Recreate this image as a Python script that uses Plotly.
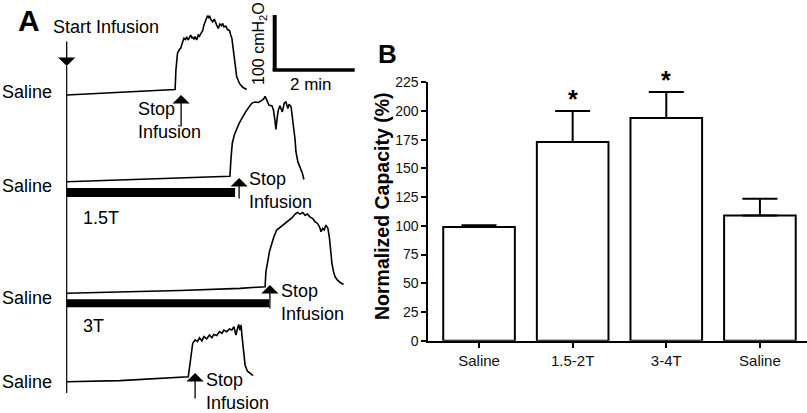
import plotly.graph_objects as go

W, H = 807, 413
FONT = "Liberation Sans, Arial, Helvetica, sans-serif"

# ---------------- Panel B data ----------------
categories = ["Saline", "1.5-2T", "3-4T", "Saline"]
capacity_mean = [99, 173, 194, 109]
capacity_sem = [1.5, 27, 22.5, 14.5]
significant = [False, True, True, False]
y_ticks = [0, 25, 50, 75, 100, 125, 150, 175, 200, 225]

# ---------------- Panel A data (time in min, pressure in cmH2O above start) ----------------
trace_names = ["Saline", "Saline", "Saline", "Saline"]
dose_labels = ["", "1.5T", "3T", ""]

trace1_t = [0.00, 0.83, 1.83, 2.71, 2.73, 2.77, 2.82, 2.85, 2.90, 2.93, 2.97, 3.00, 3.02, 3.04, 3.07,
            3.10, 3.13, 3.15, 3.18, 3.21, 3.23, 3.25, 3.29, 3.32, 3.35, 3.40, 3.43, 3.47, 3.52, 3.55,
            3.57, 3.60, 3.65, 3.69, 3.72, 3.75, 3.79, 3.83, 3.87, 3.90, 3.93, 3.98, 4.02, 4.07, 4.10,
            4.13, 4.15, 4.18, 4.22, 4.25, 4.32, 4.40, 4.50]
trace1_p = [0, 3, 6, 10, 45, 76, 83, 85, 97, 103, 101, 106, 102, 100, 105,
            109, 104, 105, 102, 106, 103, 100, 109, 107, 111, 117, 127, 136, 144, 141,
            144, 138, 133, 138, 131, 127, 121, 129, 126, 130, 124, 125, 119, 117, 109,
            103, 91, 70, 49, 33, 21, 14, 10]

trace2_t = [0.00, 1.33, 2.83, 4.08, 4.11, 4.14, 4.19, 4.25, 4.31, 4.38, 4.44, 4.50, 4.56, 4.63, 4.71,
            4.79, 4.86, 4.92, 4.96, 5.00, 5.06, 5.13, 5.17, 5.21, 5.23, 5.26, 5.29, 5.33, 5.39, 5.44,
            5.48, 5.53, 5.56, 5.61, 5.64, 5.68, 5.71, 5.73, 5.78, 5.83, 5.89, 5.93]
trace2_p = [0, 3, 7, 10, 45, 70, 85, 97, 106, 115, 124, 130, 136, 143, 145,
            144, 147, 150, 155, 149, 139, 138, 130, 109, 95, 115, 130, 138, 127, 143,
            145, 133, 141, 136, 121, 94, 76, 55, 36, 27, 16, 4]

trace3_t = [0.00, 1.33, 2.83, 4.33, 4.96, 4.98, 5.02, 5.07, 5.13, 5.18, 5.25, 5.32, 5.38, 5.46, 5.54,
            5.63, 5.71, 5.77, 5.83, 5.90, 5.96, 6.02, 6.08, 6.15, 6.21, 6.27, 6.32, 6.36, 6.40, 6.44,
            6.48, 6.53, 6.57, 6.60, 6.63, 6.67, 6.71, 6.77, 6.83, 6.92]
trace3_p = [0, 2, 5, 9, 12, 39, 57, 76, 91, 103, 115, 119, 123, 127, 133,
            137, 144, 147, 144, 147, 142, 144, 139, 136, 130, 127, 121, 112, 118, 115,
            124, 118, 100, 76, 55, 39, 30, 24, 20, 16]

trace4_t = [0.00, 1.33, 3.04, 3.08, 3.11, 3.15, 3.21, 3.27, 3.32, 3.38, 3.43, 3.50, 3.57, 3.63, 3.68,
            3.75, 3.82, 3.88, 3.93, 4.00, 4.07, 4.13, 4.18, 4.23, 4.27, 4.30, 4.33, 4.36, 4.38, 4.42,
            4.46, 4.52, 4.58, 4.66]
trace4_p = [0, 2, 9, 30, 55, 70, 76, 73, 80, 74, 82, 78, 85, 80, 86,
            84, 91, 88, 94, 91, 96, 94, 100, 85, 97, 104, 94, 103, 85, 55,
            30, 19, 15, 11]

stop_times = [2.86, 4.31, 5.08, 3.21]          # min, "Stop Infusion" arrows
infusion_end = [None, 4.21, 5.06, None]        # min, stimulation bars
scale_time_min = 2
scale_pressure = 100

# ---------------- layout helpers (pixel geometry) ----------------
def px(x):
    return x / W

def py(y):
    return 1 - y / H

A_T0_PX = 66.7       # pixel x of infusion start
A_PX_PER_MIN = 40.0
A_PX_PER_CM = 0.55
A_RIGHT_PX = 360.0

def a_x(xpx):
    return (xpx - A_T0_PX) / A_PX_PER_MIN

def a_y(ypx):
    return (H - ypx) / A_PX_PER_CM

baseline_px = [95, 181.7, 293.3, 381.7]
label_px = [92, 186, 298, 382]
stop_tip_px = [95, 178, 285, 373]
stop_tail_len = [33, 22, 25, 27]
stop_text_pos = [(137, 120.5), (248, 190.5), (280, 302.5), (205, 391)]
dose_label_px = [None, 218, 326, None]
bar_px = [None, (188, 197), (299.3, 307.3), None]

LBL = 18

fig = go.Figure()

traces_t = [trace1_t, trace2_t, trace3_t, trace4_t]
traces_p = [trace1_p, trace2_p, trace3_p, trace4_p]
for i in range(4):
    off = a_y(baseline_px[i])
    fig.add_trace(go.Scatter(
        x=traces_t[i], y=[off + v for v in traces_p[i]],
        mode="lines", line=dict(color="black", width=1.6),
        xaxis="x2", yaxis="y2", showlegend=False, hoverinfo="skip"))

shapes = []
annotations = []

# start infusion vertical line
shapes.append(dict(type="line", xref="x2", yref="y2", x0=0, x1=0,
                   y0=a_y(66), y1=a_y(393), line=dict(color="black", width=1.2)))
annotations.append(dict(xref="x2", yref="y2", x=0, y=a_y(66), ax=0, ay=-26,
                        text="", showarrow=True, arrowhead=1, arrowsize=2.2,
                        arrowwidth=1.3, arrowcolor="black"))
annotations.append(dict(xref="paper", yref="paper", x=px(51), y=py(27),
                        xanchor="left", yanchor="middle", text="Start Infusion",
                        showarrow=False, font=dict(size=LBL, color="black", family=FONT)))

for i in range(4):
    annotations.append(dict(xref="paper", yref="paper", x=px(0), y=py(label_px[i]),
                            xanchor="left", yanchor="middle", text=trace_names[i],
                            showarrow=False, font=dict(size=LBL, color="black", family=FONT)))
    # stop arrow
    annotations.append(dict(xref="x2", yref="y2", x=stop_times[i], y=a_y(stop_tip_px[i]),
                            ax=0, ay=stop_tail_len[i], text="", showarrow=True,
                            arrowhead=1, arrowsize=2.2, arrowwidth=1.3, arrowcolor="black"))
    tx, ty = stop_text_pos[i]
    annotations.append(dict(xref="paper", yref="paper", x=px(tx - 1), y=py(ty),
                            xanchor="left", yanchor="middle", align="left",
                            text="Stop<br>Infusion", showarrow=False,
                            font=dict(size=LBL, color="black", family=FONT)))
    if infusion_end[i] is not None:
        y0, y1 = bar_px[i]
        shapes.append(dict(type="rect", xref="x2", yref="y2", x0=0, x1=infusion_end[i],
                           y0=a_y(y1), y1=a_y(y0), fillcolor="black",
                           line=dict(width=0)))
        annotations.append(dict(xref="paper", yref="paper", x=px(81), y=py(dose_label_px[i]),
                                xanchor="left", yanchor="middle", text=dose_labels[i],
                                showarrow=False, font=dict(size=LBL, color="black", family=FONT)))

# scale bar
corner_t = a_x(274.7)
corner_y = a_y(70)
shapes.append(dict(type="line", xref="x2", yref="y2", x0=corner_t, x1=corner_t,
                   y0=corner_y - 1.5, y1=corner_y + scale_pressure,
                   line=dict(color="black", width=4)))
shapes.append(dict(type="line", xref="x2", yref="y2", x0=corner_t - 0.05,
                   x1=corner_t + scale_time_min, y0=corner_y, y1=corner_y,
                   line=dict(color="black", width=3.5)))
annotations.append(dict(xref="paper", yref="paper", x=px(259), y=py(44),
                        xanchor="center", yanchor="middle", textangle=-90,
                        text="%d cmH<sub>2</sub>O" % scale_pressure, showarrow=False,
                        font=dict(size=16, color="black", family=FONT)))
annotations.append(dict(xref="paper", yref="paper", x=px(311), y=py(84),
                        xanchor="center", yanchor="middle", text="%d min" % scale_time_min,
                        showarrow=False, font=dict(size=17, color="black", family=FONT)))

# panel letters
annotations.append(dict(xref="paper", yref="paper", x=px(29), y=py(21),
                        xanchor="center", yanchor="middle", text="<b>A</b>",
                        showarrow=False, font=dict(size=30, color="black", family=FONT)))
annotations.append(dict(xref="paper", yref="paper", x=px(387), y=py(54),
                        xanchor="center", yanchor="middle", text="<b>B</b>",
                        showarrow=False, font=dict(size=26, color="black", family=FONT)))

# ---------------- Panel B ----------------
xpos = list(range(len(categories)))
fig.add_trace(go.Bar(
    x=xpos, y=capacity_mean, width=0.765,
    marker=dict(color="white", line=dict(color="black", width=2)),
    error_y=dict(type="data", array=capacity_sem, arrayminus=[0] * 4, symmetric=False,
                 color="black", thickness=2, width=17.5),
    xaxis="x", yaxis="y", showlegend=False, hoverinfo="skip"))

for i, sig in enumerate(significant):
    if sig:
        annotations.append(dict(xref="x", yref="y", x=xpos[i],
                                y=capacity_mean[i] + capacity_sem[i], yshift=12,
                                xanchor="center", yanchor="middle", text="<b>*</b>",
                                showarrow=False,
                                font=dict(size=25, color="black", family=FONT)))

annotations.append(dict(xref="paper", yref="paper", x=px(382), y=py(206),
                        xanchor="center", yanchor="middle", textangle=-90,
                        text="<b>Normalized Capacity (%)</b>", showarrow=False,
                        font=dict(size=19.5, color="black", family=FONT)))

fig.update_layout(
    width=W, height=H, autosize=False,
    margin=dict(l=0, r=0, t=0, b=0, pad=0),
    paper_bgcolor="white", plot_bgcolor="white",
    font=dict(family=FONT, color="black"),
    xaxis=dict(domain=[428.3 / W, 1.0], range=[-0.542, 3.503],
               tickmode="array", tickvals=xpos, ticktext=categories,
               showline=True, linecolor="black", linewidth=2,
               ticks="outside", ticklen=5, tickwidth=1.5, tickcolor="black",
               tickfont=dict(size=15, color="#111", family=FONT),
               showgrid=False, zeroline=False, fixedrange=True, automargin=False),
    yaxis=dict(domain=[py(340.7), py(82.3)], range=[0, 225],
               tickmode="array", tickvals=y_ticks,
               showline=True, linecolor="black", linewidth=2,
               ticks="outside", ticklen=5, tickwidth=1.5, tickcolor="black",
               tickfont=dict(size=14, color="#111", family=FONT),
               showgrid=False, zeroline=False, fixedrange=True, automargin=False),
    xaxis2=dict(domain=[0, A_RIGHT_PX / W], range=[a_x(0), a_x(A_RIGHT_PX)],
                visible=False, fixedrange=True),
    yaxis2=dict(domain=[0, 1], range=[0, H / A_PX_PER_CM], anchor="x2",
                visible=False, fixedrange=True),
    shapes=shapes,
    annotations=annotations,
)

fig.write_html("out.html", config={"displayModeBar": False},
               post_script="document.body.style.margin='0';document.body.style.overflow='hidden';")
